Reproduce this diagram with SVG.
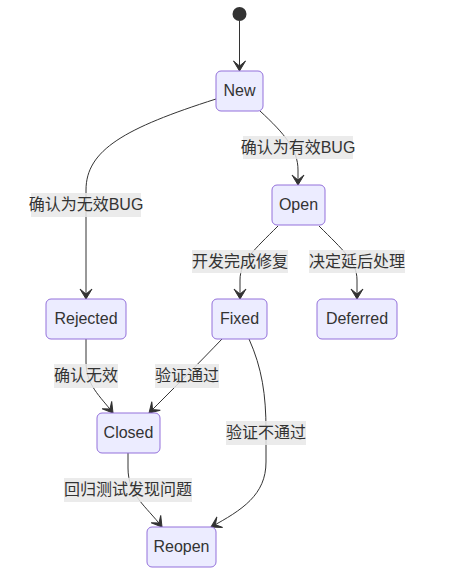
<svg xmlns="http://www.w3.org/2000/svg" width="474" height="588" viewBox="0 0 474 588">
<style>
.node rect{fill:#ECECFF;stroke:#9370DB;stroke-width:1}
.node text{font-family:"Liberation Sans","Noto Sans CJK SC",sans-serif;font-size:16px;fill:#333;text-anchor:middle;dominant-baseline:central}
.edge path{fill:none;stroke:#333;stroke-width:1}
.lbl rect{fill:#e8e8e8;opacity:0.85}
.lbl text{font-family:"Liberation Sans","Noto Sans CJK SC",sans-serif;font-size:16px;fill:#333;text-anchor:middle;dominant-baseline:central}
</style>
<defs>
<marker id="arr" viewBox="0 0 20 14" refX="19" refY="7" markerWidth="20" markerHeight="14" markerUnits="userSpaceOnUse" orient="auto">
<path d="M19,7 L9,13 L14,7 L9,1 Z" fill="#333" stroke="#333" stroke-width="1"/>
</marker>
</defs>
<g id="connectors" class="edge">
<path d="M239.5,21 L239.5,71" marker-end="url(#arr)"/>
<path d="M216,99 C125,128 86,150 86,190 L86,299" marker-end="url(#arr)"/>
<path d="M260,111 C285,134 298,150 298,170 L298,185" marker-end="url(#arr)"/>
<path d="M278,226 C254,250 240,262 240,280 L240,299" marker-end="url(#arr)"/>
<path d="M319,226 C343,250 357,262 357,280 L357,299" marker-end="url(#arr)"/>
<path d="M86,339 L86,362 C86,385 100,396 113,413" marker-end="url(#arr)"/>
<path d="M222,339 C200,362 172,390 149,413" marker-end="url(#arr)"/>
<path d="M249,339 C262,368 266,395 266,430 L266,462 C266,495 242,510 211,527" marker-end="url(#arr)"/>
<path d="M128,453 L128,468 C128,495 146,506 162,527" marker-end="url(#arr)"/>
</g>
<g id="labels">
<g class="lbl"><rect x="243" y="136" width="110" height="23"/><text x="298" y="147">确认为有效BUG</text></g>
<g class="lbl"><rect x="31" y="193" width="110" height="24"/><text x="86" y="204.5">确认为无效BUG</text></g>
<g class="lbl"><rect x="192" y="250" width="96" height="23"/><text x="240" y="261">开发完成修复</text></g>
<g class="lbl"><rect x="309" y="250" width="96" height="23"/><text x="357" y="261">决定延后处理</text></g>
<g class="lbl"><rect x="54" y="364" width="64" height="24"/><text x="86" y="375.5">确认无效</text></g>
<g class="lbl"><rect x="155" y="364" width="64" height="24"/><text x="187" y="375.5">验证通过</text></g>
<g class="lbl"><rect x="226" y="421" width="80" height="24"/><text x="266" y="432.5">验证不通过</text></g>
<g class="lbl"><rect x="64" y="478" width="128" height="24"/><text x="128" y="489.5">回归测试发现问题</text></g>
</g>
<g id="start"><circle cx="239.5" cy="14" r="7" fill="#333"/></g>
<g id="New" class="node"><rect x="216" y="71" width="47" height="40" rx="5"/><text x="239.5" y="90">New</text></g>
<g id="Open" class="node"><rect x="272" y="185" width="53" height="40" rx="5"/><text x="298.5" y="204">Open</text></g>
<g id="Rejected" class="node"><rect x="46" y="299" width="80" height="40" rx="5"/><text x="86" y="318">Rejected</text></g>
<g id="Fixed" class="node"><rect x="212" y="299" width="55" height="40" rx="5"/><text x="239.5" y="318">Fixed</text></g>
<g id="Deferred" class="node"><rect x="317" y="299" width="80" height="40" rx="5"/><text x="357" y="318">Deferred</text></g>
<g id="Closed" class="node"><rect x="97" y="413" width="63" height="40" rx="5"/><text x="128.5" y="432">Closed</text></g>
<g id="Reopen" class="node"><rect x="147" y="527" width="69" height="40" rx="5"/><text x="181.5" y="546">Reopen</text></g>
</svg>
